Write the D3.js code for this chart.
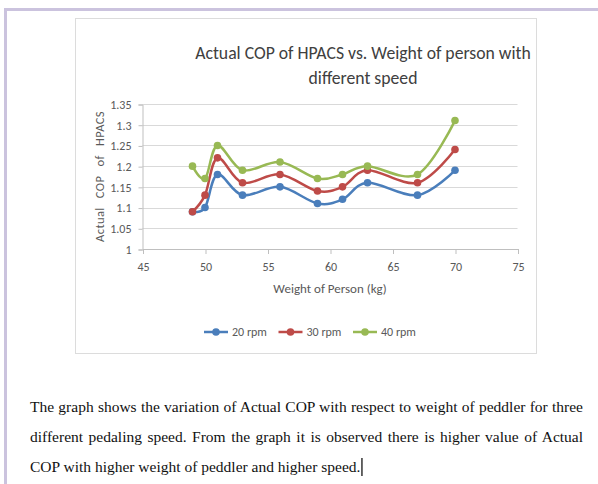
<!DOCTYPE html>
<html lang="en">
<head>
    <meta charset="UTF-8">
    <title>Actual COP of HPACS vs. Weight of person</title>
    <script src="https://d3js.org/d3.v7.min.js"></script>
    <style>
        body { margin: 0; background: #fff; }
        .tick text { font-family: Carlito, "Liberation Sans Narrow", "Open Sans", sans-serif; font-size: 12px; fill: #595959; }
        .chart-font { font-family: Carlito, "Liberation Sans Narrow", "Open Sans", sans-serif; }
        .para { font-family: "Liberation Serif", "Times New Roman", serif; font-size: 15.5px; fill: #111; }
    </style>
</head>
<body>
    <div id="chart"></div>
    <script>
        // data
        const weights = [49, 50, 51, 53, 56, 59, 61, 63, 67, 70];
        const rpm20 = [1.09, 1.10, 1.18, 1.13, 1.15, 1.11, 1.12, 1.16, 1.13, 1.19];
        const rpm30 = [1.09, 1.13, 1.22, 1.16, 1.18, 1.14, 1.15, 1.19, 1.16, 1.24];
        const rpm40 = [1.20, 1.17, 1.25, 1.19, 1.21, 1.17, 1.18, 1.20, 1.18, 1.31];
        const seriesNames = ["20 rpm", "30 rpm", "40 rpm"];
        const xTicks = [45, 50, 55, 60, 65, 70, 75];
        const yTicks = [1, 1.05, 1.1, 1.15, 1.2, 1.25, 1.3, 1.35];

        const colors = ["#4a7ebb", "#be4b48", "#98b954"];
        const allSeries = [rpm20, rpm30, rpm40];

        const W = 598, H = 484;
        const svg = d3.select("#chart").append("svg")
            .attr("width", W)
            .attr("height", H);

        // lavender page border (top + left)
        svg.append("rect").attr("x", 4).attr("y", 8).attr("width", W - 4).attr("height", 3).attr("fill", "#cbc3de");
        svg.append("rect").attr("x", 4).attr("y", 8).attr("width", 3).attr("height", H - 8).attr("fill", "#cbc3de");

        // chart frame
        svg.append("rect")
            .attr("x", 75.5).attr("y", 18.5)
            .attr("width", 461).attr("height", 335)
            .attr("fill", "#fff")
            .attr("stroke", "#dcdcdc");

        const x = d3.scaleLinear().domain([45, 75]).range([142.5, 517.5]);
        const y = d3.scaleLinear().domain([1, 1.35]).range([249, 104]);

        // gridlines
        svg.append("g")
            .selectAll("line")
            .data(yTicks.slice(1))
            .enter().append("line")
            .attr("x1", x(45)).attr("x2", x(75))
            .attr("y1", d => Math.round(y(d)) + 0.5)
            .attr("y2", d => Math.round(y(d)) + 0.5)
            .attr("stroke", "#d9d9d9");

        // axes
        const yAxis = svg.append("g")
            .attr("transform", `translate(${x(45)},0.5)`)
            .call(d3.axisLeft(y).tickValues(yTicks).tickSize(4).tickPadding(7).tickFormat(d => String(d)));
        const xAxis = svg.append("g")
            .attr("transform", `translate(0.5,${y(1)})`)
            .call(d3.axisBottom(x).tickValues(xTicks).tickSize(5).tickPadding(8).tickFormat(d => String(d)));
        [yAxis, xAxis].forEach(a => {
            a.select(".domain").attr("stroke", "#bfbfbf");
            a.selectAll(".tick line").attr("stroke", "#bfbfbf");
        });

        // lines
        const line = d3.line()
            .x(d => x(d[0]))
            .y(d => y(d[1]))
            .curve(d3.curveCardinal.tension(0));

        allSeries.forEach((vals, i) => {
            const pts = weights.map((w, j) => [w, vals[j]]);
            svg.append("path")
                .datum(pts)
                .attr("d", line)
                .attr("fill", "none")
                .attr("stroke", colors[i])
                .attr("stroke-width", 2.5);
            svg.append("g")
                .selectAll("circle")
                .data(pts)
                .enter().append("circle")
                .attr("cx", d => x(d[0]))
                .attr("cy", d => y(d[1]))
                .attr("r", 3.8)
                .attr("fill", colors[i]);
        });

        // title
        const title = svg.append("text")
            .attr("class", "chart-font")
            .attr("text-anchor", "middle")
            .attr("fill", "#404040")
            .style("font-size", "17.7px");
        title.append("tspan").attr("x", 363).attr("y", 59).text("Actual COP of HPACS vs. Weight of person with");
        title.append("tspan").attr("x", 363).attr("y", 84).text("different speed");

        // axis titles
        svg.append("text")
            .attr("class", "chart-font")
            .attr("x", (x(45) + x(75)) / 2)
            .attr("y", 293)
            .attr("text-anchor", "middle")
            .attr("fill", "#595959")
            .style("font-size", "13px")
            .text("Weight of Person (kg)");

        svg.append("text")
            .attr("class", "chart-font")
            .attr("transform", `translate(104,${(y(1) + y(1.35)) / 2}) rotate(-90)`)
            .attr("text-anchor", "middle")
            .attr("fill", "#595959")
            .style("font-size", "12.5px")
            .style("letter-spacing", "0.4px")
            .style("word-spacing", "6px")
            .text("Actual COP of HPACS");

        // legend
        const legend = svg.append("g").attr("transform", "translate(204,332)");
        seriesNames.forEach((name, i) => {
            const g = legend.append("g").attr("transform", `translate(${i * 74.5},0)`);
            g.append("line").attr("x1", 0).attr("x2", 24).attr("stroke", colors[i]).attr("stroke-width", 2.5);
            g.append("circle").attr("cx", 12).attr("r", 3.8).attr("fill", colors[i]);
            g.append("text")
                .attr("class", "chart-font")
                .attr("x", 28)
                .attr("y", 4)
                .attr("fill", "#595959")
                .style("font-size", "12px")
                .text(name);
        });

        // paragraph below the chart
        const paraLines = [
            "The graph shows the variation of Actual COP with respect to weight of peddler for three",
            "different pedaling speed. From the graph it is observed there is higher value of Actual",
            "COP with higher weight of peddler and higher speed."
        ];
        const paraX = 30, paraW = 553;
        paraLines.forEach((txt, i) => {
            const t = svg.append("text")
                .attr("class", "para")
                .attr("x", paraX)
                .attr("y", 412 + i * 30)
                .text(txt);
            const natural = t.node().getComputedTextLength();
            if (i < paraLines.length - 1) {
                const spaces = txt.split(" ").length - 1;
                t.attr("word-spacing", (paraW - natural) / spaces);
            } else {
                // text cursor after the last word
                svg.append("line")
                    .attr("x1", paraX + natural + 1.5).attr("x2", paraX + natural + 1.5)
                    .attr("y1", 412 + i * 30 - 14).attr("y2", 412 + i * 30 + 4)
                    .attr("stroke", "#000").attr("stroke-width", 1.2);
            }
        });
    </script>
</body>
</html>
